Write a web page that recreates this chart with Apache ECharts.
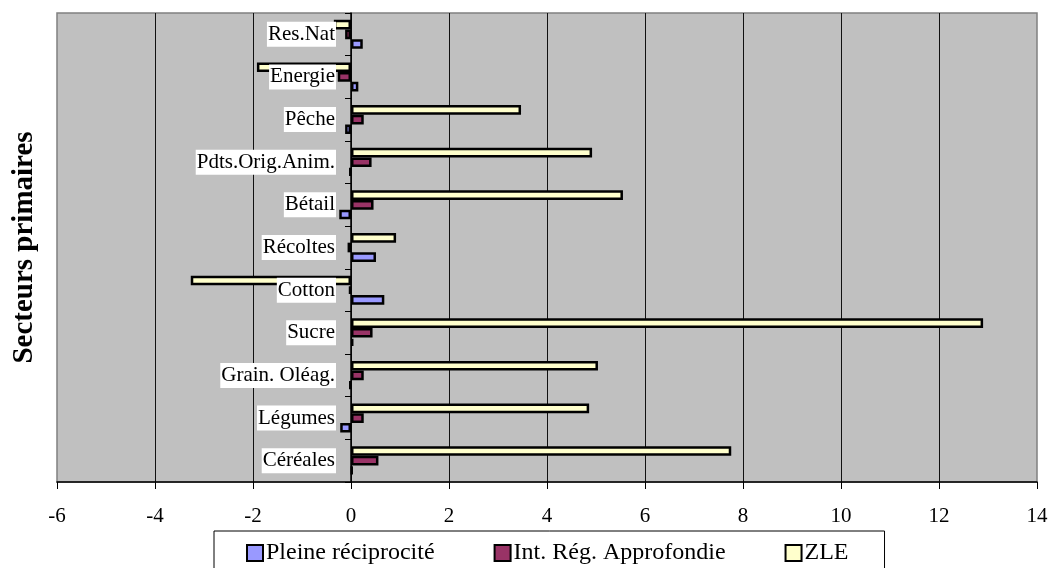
<!DOCTYPE html>
<html>
<head>
<meta charset="utf-8">
<title>Secteurs primaires</title>
<script src="https://cdn.jsdelivr.net/npm/echarts@6/dist/echarts.min.js"></script>
<style>
  html, body { margin: 0; padding: 0; background: #fff; }
  #main { width: 1049px; height: 568px; }
</style>
</head>
<body>
<div id="main"></div>
<script>
// categories, bottom to top (as drawn on the y axis)
var secteurs = ['Céréales', 'Légumes', 'Grain. Oléag.', 'Sucre', 'Cotton', 'Récoltes',
  'Bétail', 'Pdts.Orig.Anim.', 'Pêche', 'Energie', 'Res.Nat'];

// values, same order as secteurs
var pleineReciprocite = [0.03, -0.22, -0.03, 0.05, 0.68, 0.51, -0.24, -0.03, -0.12, 0.15, 0.24];
var intRegApprofondie = [0.56, 0.26, 0.26, 0.44, -0.04, -0.07, 0.46, 0.42, 0.26, -0.27, -0.12];
var zle = [7.76, 4.86, 5.04, 12.9, -3.27, 0.92, 5.55, 4.92, 3.47, -1.92, -0.35];

var xTicks = { min: -6, max: 14, step: 2 };

var serif = '"Liberation Serif", "DejaVu Serif", serif';
var gridLeft = 57;

var myChart = echarts.init(document.getElementById('main'));

function barSerie(name, color, data) {
  return {
    name: name,
    type: 'bar',
    data: data,
    barGap: '0%',
    barCategoryGap: '32%',
    animation: false,
    itemStyle: {
      color: color,
      borderColor: '#000',
      borderWidth: 2.5
    }
  };
}

var option = {
  backgroundColor: '#fff',
  grid: {
    left: gridLeft,
    right: 12,
    top: 13,
    bottom: 86,
    containLabel: false,
    outerBoundsMode: 'none',
    show: true,
    backgroundColor: '#C0C0C0',
    borderColor: '#808080',
    borderWidth: 1.5
  },
  legend: {
    left: 214,
    top: 531,
    itemGap: 59,
    itemWidth: 16,
    itemHeight: 16,
    icon: 'rect',
    padding: [10, 36, 30, 32],
    backgroundColor: '#fff',
    borderColor: '#000',
    borderWidth: 1,
    textStyle: { fontFamily: serif, fontSize: 24, color: '#000', padding: [0, 0, 0, -2] },
    data: ['Pleine réciprocité', 'Int. Rég. Approfondie', 'ZLE']
  },
  xAxis: {
    type: 'value',
    min: xTicks.min,
    max: xTicks.max,
    interval: xTicks.step,
    axisLine: { show: true, onZero: false, lineStyle: { color: '#000', width: 1.5 } },
    axisTick: { show: true, length: 7, lineStyle: { color: '#000' } },
    axisLabel: { margin: 24, fontFamily: serif, fontSize: 21, color: '#000' },
    splitLine: { show: true, showMinLine: false, showMaxLine: false, lineStyle: { color: '#111', width: 1 } }
  },
  yAxis: {
    type: 'category',
    data: secteurs,
    z: 5,
    offset: 0,
    name: 'Secteurs primaires',
    nameLocation: 'middle',
    nameGap: 20,
    nameMoveOverlap: false,
    nameTextStyle: { fontFamily: serif, fontSize: 29, fontWeight: 'bold', color: '#000' },
    axisLine: { show: true, onZero: false, lineStyle: { color: '#000', width: 1.5 } },
    axisTick: { show: true, length: 6, lineStyle: { color: '#000' } },
    axisLabel: {
      margin: 15,
      fontFamily: serif,
      fontSize: 21,
      color: '#000',
      backgroundColor: '#fff',
      padding: [2, 1, 2, 1]
    },
    splitLine: { show: false }
  },
  // ZLE first so that it sits on top within each category, as in the picture
  series: [
    barSerie('ZLE', '#FFFFCC', zle),
    barSerie('Int. Rég. Approfondie', '#993366', intRegApprofondie),
    barSerie('Pleine réciprocité', '#9999FF', pleineReciprocite)
  ]
};

myChart.setOption(option);

// the category axis crosses at x = 0: move the whole axis (line, ticks, labels) there
var x0 = myChart.convertToPixel({ xAxisIndex: 0 }, 0);
var shift = x0 - gridLeft;
myChart.setOption({
  yAxis: { offset: -shift, nameGap: shift + 18 }
});
</script>
</body>
</html>
